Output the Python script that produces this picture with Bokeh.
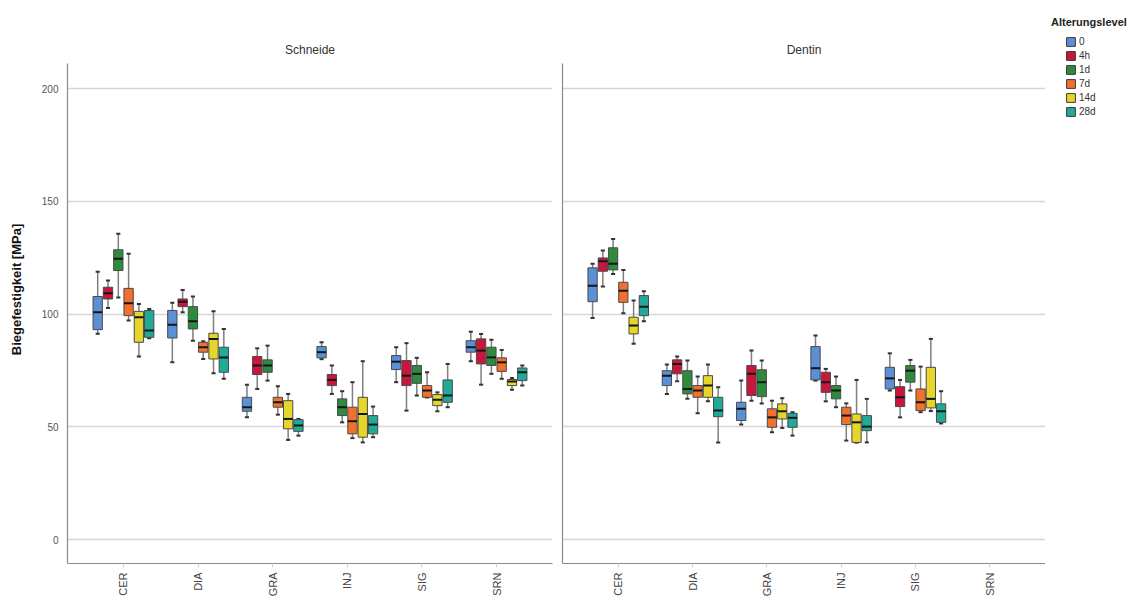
import math
from bokeh.plotting import figure
from bokeh.layouts import row
from bokeh.models import (ColumnDataSource, FactorRange, Range1d, FixedTicker,
                          Legend, LegendItem, Label)
from bokeh.transform import dodge
from bokeh.embed import file_html
from bokeh.resources import INLINE

CATEGORIES = ["CER", "DIA", "GRA", "INJ", "SIG", "SRN"]
LEVELS = ["0", "4h", "1d", "7d", "14d", "28d"]
COLORS = ["#5b8fd6", "#c8163c", "#2e8b3e", "#f0712e", "#e6d52a", "#1faa9a"]
Y_TICKS = [0, 50, 100, 150, 200]

# Rows: ageing level (0, 4h, 1d, 7d, 14d, 28d); columns: material (CER..SRN)
# --- Schneide ---
SCHNEIDE_LO = [
    [91.3, 78.6, 54.2, 80.0, 69.8, 79.1],
    [102.7, 100.8, 66.8, 64.6, 57.2, 68.7],
    [107.4, 88.2, 70.5, 52.0, 63.9, 73.5],
    [97.1, 80.1, 55.4, 45.0, 63.0, 71.3],
    [81.2, 73.8, 44.2, 43.1, 56.9, 66.4],
    [89.3, 71.3, 46.1, 45.4, 58.7, 68.3],
]
SCHNEIDE_Q1 = [
    [93.1, 89.4, 56.9, 80.6, 75.4, 83.1],
    [106.7, 103.3, 73.2, 68.3, 68.3, 77.9],
    [119.3, 93.4, 74.2, 55.0, 69.3, 77.2],
    [99.3, 83.1, 58.7, 46.9, 63.1, 74.6],
    [87.5, 80.1, 49.1, 45.4, 59.4, 68.3],
    [89.7, 74.2, 48.0, 46.9, 60.9, 70.5],
]
SCHNEIDE_MED = [
    [100.8, 95.3, 58.7, 83.1, 78.9, 85.3],
    [109.2, 105.5, 77.2, 70.8, 72.7, 83.8],
    [124.5, 96.8, 77.2, 58.7, 73.5, 80.8],
    [104.8, 85.3, 60.9, 52.5, 66.1, 78.6],
    [98.6, 89.0, 53.5, 55.7, 62.0, 70.1],
    [92.7, 80.8, 50.6, 51.0, 63.9, 74.2],
]
SCHNEIDE_Q3 = [
    [107.8, 101.6, 63.1, 85.6, 81.6, 88.2],
    [111.9, 106.7, 81.2, 73.2, 79.4, 89.0],
    [128.5, 103.3, 79.7, 62.4, 77.2, 85.3],
    [111.4, 87.5, 63.1, 58.7, 68.3, 80.6],
    [101.2, 91.5, 61.6, 63.1, 64.3, 71.0],
    [101.6, 85.3, 53.2, 55.0, 70.8, 76.1],
]
SCHNEIDE_HI = [
    [118.8, 105.0, 68.7, 87.5, 85.3, 92.2],
    [114.9, 110.7, 84.8, 77.2, 87.1, 91.2],
    [135.6, 107.8, 86.0, 65.8, 80.6, 88.6],
    [126.7, 88.0, 68.0, 69.8, 74.2, 84.1],
    [104.5, 101.2, 64.6, 79.1, 65.3, 71.7],
    [102.3, 93.4, 53.5, 59.0, 77.9, 77.2],
]

# --- Dentin (no SRN specimens) ---
DENTIN_LO = [
    [98.3, 64.6, 51.0, 70.5, 66.1, None],
    [112.2, 70.2, 61.6, 61.3, 54.2, None],
    [117.8, 62.4, 60.4, 58.7, 66.1, None],
    [100.4, 56.0, 47.6, 43.9, 56.5, None],
    [86.8, 61.3, 49.5, 43.0, 57.0, None],
    [96.8, 43.1, 46.1, 43.1, 51.5, None],
]
DENTIN_Q1 = [
    [105.5, 68.3, 52.8, 70.8, 66.8, None],
    [119.0, 73.5, 63.9, 65.3, 59.0, None],
    [119.6, 64.6, 63.4, 62.4, 69.8, None],
    [105.2, 63.1, 49.8, 51.0, 57.2, None],
    [91.2, 63.1, 53.5, 43.1, 58.4, None],
    [99.3, 54.5, 49.8, 48.3, 52.0, None],
]
DENTIN_MED = [
    [112.6, 72.7, 58.0, 76.0, 71.5, None],
    [123.4, 77.9, 73.5, 69.8, 63.1, None],
    [122.3, 66.8, 69.8, 66.1, 74.9, None],
    [110.4, 66.1, 54.2, 55.0, 60.9, None],
    [94.9, 68.3, 56.9, 52.0, 62.4, None],
    [103.3, 57.2, 54.0, 50.1, 56.9, None],
]
DENTIN_Q3 = [
    [120.5, 74.9, 60.9, 85.6, 76.4, None],
    [124.9, 79.7, 77.2, 74.2, 67.8, None],
    [129.4, 74.9, 75.3, 68.3, 77.2, None],
    [114.1, 68.3, 58.0, 58.7, 66.8, None],
    [98.6, 72.7, 60.2, 55.7, 76.4, None],
    [108.2, 63.1, 56.0, 55.0, 60.2, None],
]
DENTIN_HI = [
    [122.3, 77.6, 70.5, 90.5, 82.6, None],
    [128.2, 81.2, 83.8, 75.7, 70.8, None],
    [133.3, 79.4, 79.4, 72.3, 79.7, None],
    [119.6, 72.3, 61.6, 60.4, 76.7, None],
    [106.0, 77.6, 62.7, 70.8, 89.0, None],
    [110.1, 67.5, 56.5, 62.4, 65.8, None],
]

FONT = "Liberation Sans"
STEP = 0.138       # spacing between boxes of one material
BOX_W = 0.125      # box width in category units
CAP_W = 0.055      # whisker cap width
AXIS_COLOR = "#8a8a8a"
Y_LOW, Y_AXIS_TOP, Y_HIGH = -10.6, 211.1, 232.4   # axis line stops at Y_AXIS_TOP
TITLE_Y = 216.9                                   # panel heading height (data units)


def make_panel(title, lo, q1, med, q3, hi, width, border_left, border_right, first):
    xr = FactorRange(*CATEGORIES, range_padding=0.0833)
    p = figure(width=width, height=601, x_range=xr, y_range=Range1d(Y_LOW, Y_HIGH),
               output_backend="svg", toolbar_location=None,
               min_border_left=border_left, min_border_right=border_right,
               min_border_top=15, min_border_bottom=38)
    p.outline_line_color = None
    p.background_fill_color = "white"
    p.border_fill_color = "white"

    # panel heading, centred over the facet
    p.add_layout(Label(x=3.0, y=TITLE_Y, text=title, text_align="center",
                       text_baseline="middle", text_font=FONT,
                       text_font_size="12px", text_color="#333333"))

    p.yaxis.bounds = (Y_LOW, Y_AXIS_TOP)
    p.yaxis.axis_line_color = AXIS_COLOR
    p.yaxis.axis_line_width = 1.2
    p.yaxis.major_tick_line_color = None
    p.yaxis.minor_tick_line_color = None
    if first:
        p.yaxis.ticker = FixedTicker(ticks=Y_TICKS)
        p.yaxis.axis_label = "Biegefestigkeit [MPa]"
        p.yaxis.axis_label_text_font = FONT
        p.yaxis.axis_label_text_font_style = "bold"
        p.yaxis.axis_label_text_font_size = "13px"
        p.yaxis.axis_label_text_color = "#111111"
        p.yaxis.axis_label_standoff = 15
        p.yaxis.major_label_text_font = FONT
        p.yaxis.major_label_text_font_size = "10px"
        p.yaxis.major_label_text_color = "#555555"
        p.yaxis.major_label_standoff = 3
    else:
        # shared scale: only the axis line is drawn on the second facet
        p.yaxis.ticker = FixedTicker(ticks=[])
        p.yaxis.major_label_standoff = 0
    p.ygrid.ticker = FixedTicker(ticks=Y_TICKS)

    p.xaxis.axis_line_color = AXIS_COLOR
    p.xaxis.axis_line_width = 1.2
    p.xaxis.major_tick_line_color = "#d0d0d0"
    p.xaxis.major_tick_out = 4
    p.xaxis.major_tick_in = 0
    p.xaxis.major_label_orientation = math.pi / 2
    p.xaxis.major_label_text_font = FONT
    p.xaxis.major_label_text_font_size = "11px"
    p.xaxis.major_label_text_color = "#444444"
    p.xaxis.major_label_standoff = 5

    p.xgrid.grid_line_color = None
    p.ygrid.grid_line_color = "#d6d6d6"
    p.ygrid.grid_line_width = 1.5

    for j, level in enumerate(LEVELS):
        idx = [i for i in range(len(CATEGORIES)) if med[j][i] is not None]
        src = ColumnDataSource(dict(
            cat=[CATEGORIES[i] for i in idx],
            lo=[lo[j][i] for i in idx],
            q1=[q1[j][i] for i in idx],
            med=[med[j][i] for i in idx],
            q3=[q3[j][i] for i in idx],
            hi=[hi[j][i] for i in idx],
        ))
        off = (j - 2.5) * STEP
        # whisker stem
        p.segment(x0=dodge("cat", off, range=xr), x1=dodge("cat", off, range=xr),
                  y0="lo", y1="hi", source=src, line_color="#7f7f7f", line_width=1.5)
        # caps
        for yc in ("lo", "hi"):
            p.segment(x0=dodge("cat", off - CAP_W / 2, range=xr),
                      x1=dodge("cat", off + CAP_W / 2, range=xr),
                      y0=yc, y1=yc, source=src, line_color="#333333", line_width=2)
        # box
        p.vbar(x=dodge("cat", off, range=xr), width=BOX_W, bottom="q1", top="q3",
               source=src, fill_color=COLORS[j], line_color="#4a4a4a", line_width=1)
        # median
        p.segment(x0=dodge("cat", off - BOX_W / 2, range=xr),
                  x1=dodge("cat", off + BOX_W / 2, range=xr),
                  y0="med", y1="med", source=src, line_color="#151515", line_width=2)
    return p


p1 = make_panel("Schneide", SCHNEIDE_LO, SCHNEIDE_Q1, SCHNEIDE_MED, SCHNEIDE_Q3,
                SCHNEIDE_HI, width=555, border_left=67, border_right=3, first=True)
p2 = make_panel("Dentin", DENTIN_LO, DENTIN_Q1, DENTIN_MED, DENTIN_Q3,
                DENTIN_HI, width=490, border_left=7, border_right=0, first=False)

# legend column: swatches come from proxy quads that sit outside this plot's ranges
p3 = figure(width=86, height=601, output_backend="svg", toolbar_location=None,
            x_range=Range1d(0, 1), y_range=Range1d(0, 1),
            x_axis_location=None, y_axis_location=None,
            min_border_left=5, min_border_right=0, min_border_top=15,
            min_border_bottom=38)
p3.outline_line_color = None
p3.grid.visible = False

heading_r = p3.quad(left=[], right=[], bottom=[], top=[])
heading = Legend(items=[LegendItem(label="Alterungslevel", renderers=[heading_r])],
                 location=(0, 534), margin=0, padding=0, glyph_width=1,
                 glyph_height=14, label_height=14, label_standoff=0,
                 label_text_font=FONT, label_text_font_size="11px",
                 label_text_font_style="bold", label_text_color="#222222",
                 border_line_color=None, background_fill_alpha=0)
p3.add_layout(heading)

items = []
for lvl, col in zip(LEVELS, COLORS):
    r = p3.quad(left=[5], right=[6], bottom=[5], top=[6], fill_color=col,
                line_color="#3a3a3a")
    items.append(LegendItem(label=lvl, renderers=[r]))
leg = Legend(items=items, location=(15, 445), margin=0, padding=0,
             glyph_width=11, glyph_height=11, label_height=14, label_width=10,
             spacing=0, label_standoff=3, label_text_font=FONT,
             label_text_font_size="10px", label_text_color="#333333",
             border_line_color=None, background_fill_alpha=0)
p3.add_layout(leg)

layout = row(p1, p2, p3)
open("out.html", "w").write(file_html(layout, INLINE))
